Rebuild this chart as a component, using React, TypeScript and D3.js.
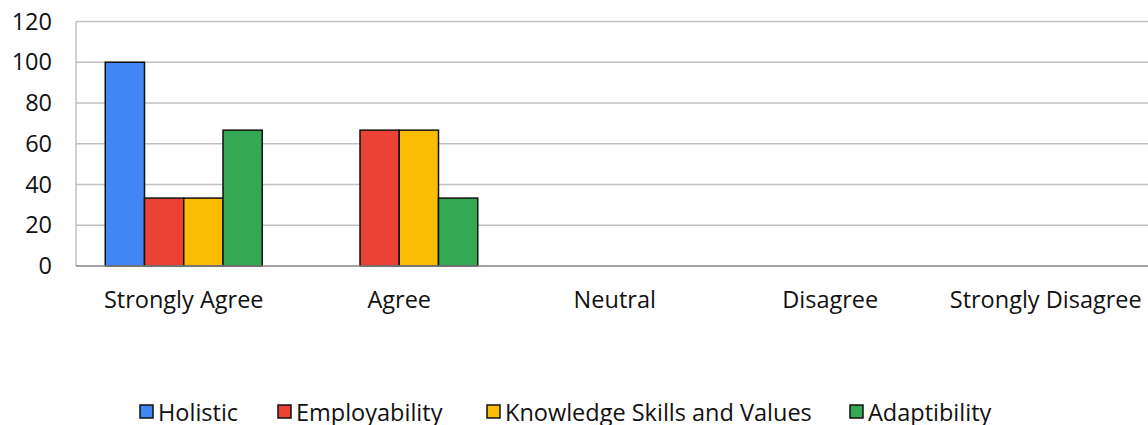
import React, { useEffect, useRef } from 'react';
import * as d3 from 'd3';

const categories = ['Strongly Agree', 'Agree', 'Neutral', 'Disagree', 'Strongly Disagree'];
const seriesNames = ['Holistic', 'Employability', 'Knowledge Skills and Values', 'Adaptibility'];
const seriesColors = ['#4285F4', '#EA4335', '#FBBC04', '#34A853'];
const holistic = [100, 0, 0, 0, 0];
const employability = [33.33, 66.67, 0, 0, 0];
const knowledgeSkills = [33.33, 66.67, 0, 0, 0];
const adaptibility = [66.67, 33.33, 0, 0, 0];
const yTicks = [0, 20, 40, 60, 80, 100, 120];

const seriesValues = [holistic, employability, knowledgeSkills, adaptibility];

export default function App() {
  const ref = useRef<SVGSVGElement>(null);

  useEffect(() => {
    document.body.style.margin = '0';
    if (!ref.current) return;
    const svg = d3.select(ref.current);
    svg.selectAll('*').remove();

    const width = 1148;
    const height = 425;
    const margin = { top: 21.5, bottom: 159, left: 76 };
    const plotRight = 1153.5;
    const font = '"Open Sans", sans-serif';
    const fontSize = 23.5;

    const x = d3.scaleBand<string>()
      .domain(categories)
      .range([margin.left, plotRight]);

    const groupWidth = 157;
    const x1 = d3.scaleBand<number>()
      .domain(d3.range(seriesNames.length))
      .range([0, groupWidth]);

    const y = d3.scaleLinear()
      .domain([0, 120])
      .range([height - margin.bottom, margin.top]);

    // grid
    svg.append('g')
      .selectAll('line')
      .data(yTicks.filter(t => t > 0))
      .enter()
      .append('line')
      .attr('x1', margin.left)
      .attr('x2', width)
      .attr('y1', d => y(d))
      .attr('y2', d => y(d))
      .attr('stroke', '#c0c0c0')
      .attr('stroke-width', 1.5);

    // left axis line
    svg.append('line')
      .attr('x1', margin.left)
      .attr('x2', margin.left)
      .attr('y1', y(120))
      .attr('y2', y(0))
      .attr('stroke', '#c0c0c0')
      .attr('stroke-width', 1.5);

    // bars
    categories.forEach((cat, ci) => {
      const gx = x(cat)! + (x.bandwidth() - groupWidth) / 2;
      seriesValues.forEach((vals, si) => {
        if (vals[ci] <= 0) return;
        svg.append('rect')
          .attr('x', gx + x1(si)!)
          .attr('y', y(vals[ci]))
          .attr('width', x1.bandwidth())
          .attr('height', y(0) - y(vals[ci]))
          .attr('fill', seriesColors[si])
          .attr('stroke', '#111')
          .attr('stroke-width', 1.5);
      });
    });

    // bottom axis line
    svg.append('line')
      .attr('x1', margin.left)
      .attr('x2', width)
      .attr('y1', y(0))
      .attr('y2', y(0))
      .attr('stroke', '#868686')
      .attr('stroke-width', 1.5);

    // y labels
    svg.append('g')
      .selectAll('text')
      .data(yTicks)
      .enter()
      .append('text')
      .attr('x', 52)
      .attr('y', d => y(d))
      .attr('dy', '0.35em')
      .attr('text-anchor', 'end')
      .attr('font-family', font)
      .attr('font-size', fontSize)
      .attr('fill', '#111')
      .text(d => d);

    // x labels
    svg.append('g')
      .selectAll('text')
      .data(categories)
      .enter()
      .append('text')
      .attr('x', d => x(d)! + x.bandwidth() / 2)
      .attr('y', 308)
      .attr('text-anchor', 'middle')
      .attr('font-family', font)
      .attr('font-size', fontSize)
      .attr('fill', '#111')
      .text(d => d);

    // legend
    const legendX = [140, 278, 487, 850];
    const legend = svg.append('g');
    seriesNames.forEach((name, i) => {
      legend.append('rect')
        .attr('x', legendX[i])
        .attr('y', 405)
        .attr('width', 13)
        .attr('height', 13)
        .attr('fill', seriesColors[i])
        .attr('stroke', '#111')
        .attr('stroke-width', 1.5);
      legend.append('text')
        .attr('x', legendX[i] + 18)
        .attr('y', 421)
        .attr('font-family', font)
        .attr('font-size', fontSize)
        .attr('fill', '#111')
        .text(name);
    });
  }, []);

  return <svg ref={ref} width={1148} height={425} style={{ display: 'block', background: '#fff' }} />;
}
